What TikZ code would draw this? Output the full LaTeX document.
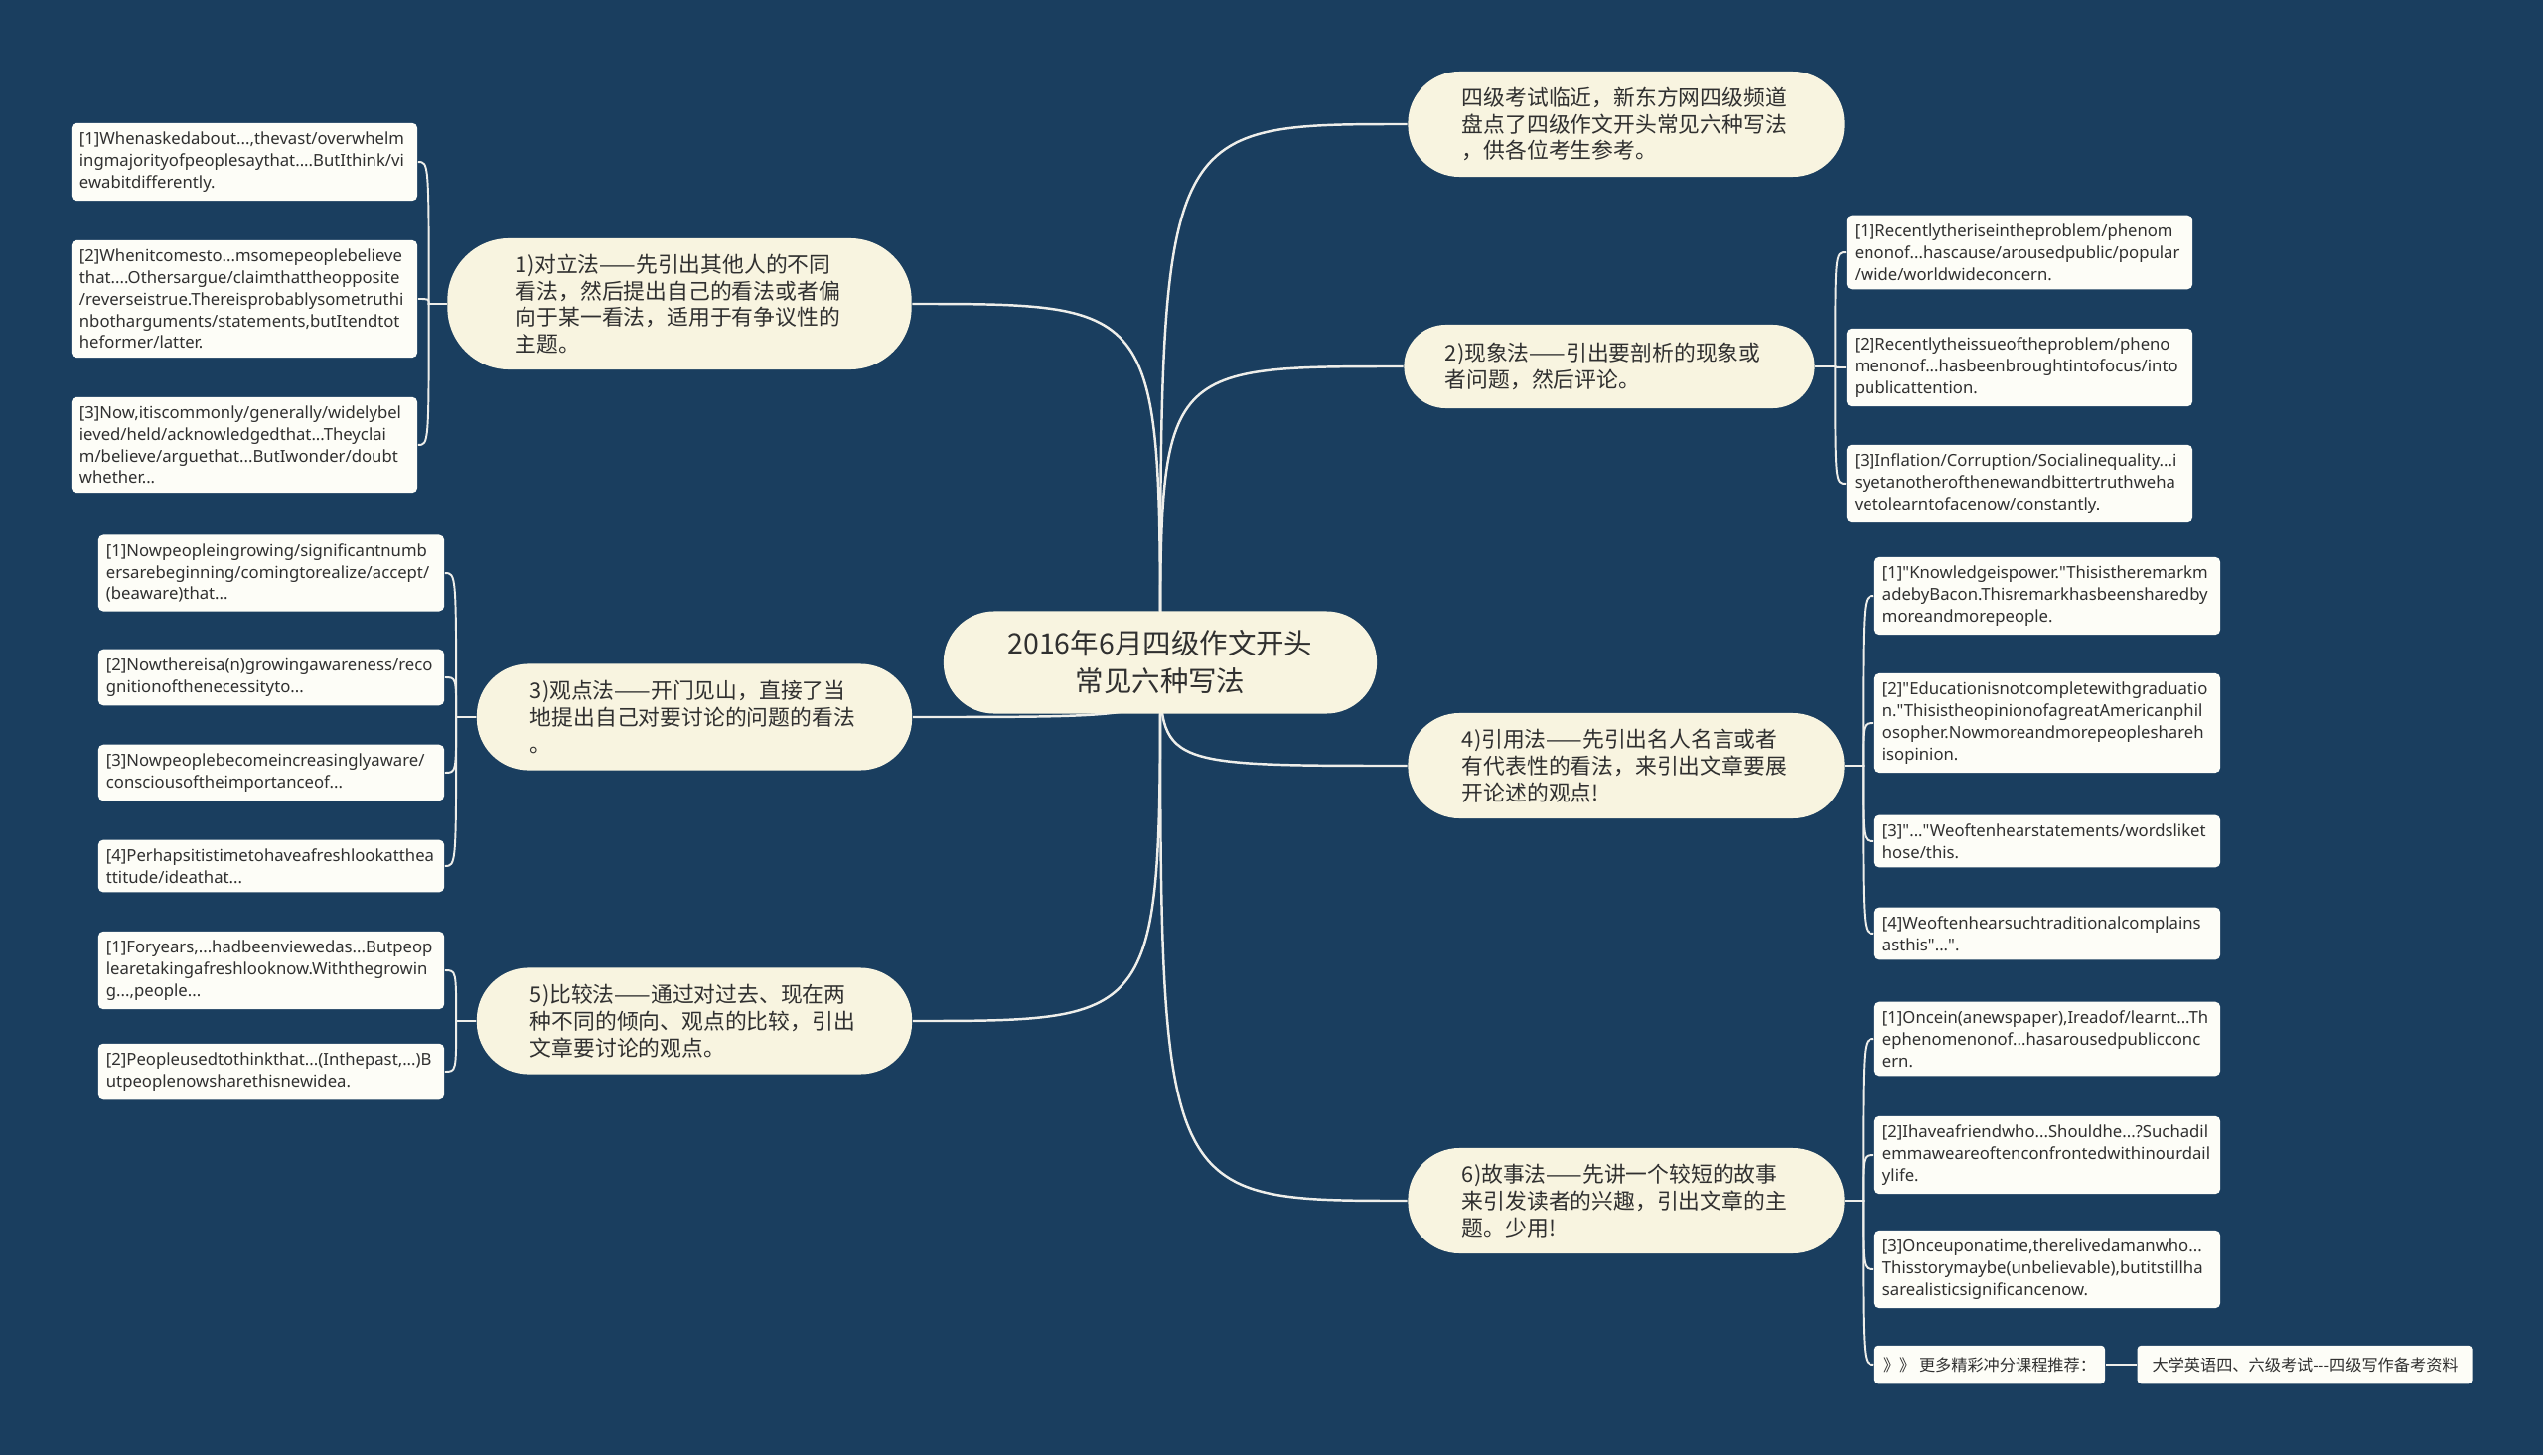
\documentclass[tikz,border=0pt]{standalone}
\usepackage{fontspec}
\usepackage{tikz}
\usetikzlibrary{positioning,calc}
\newfontfamily\cjk{Noto Sans CJK SC}
\newfontfamily\leaffont{Noto Sans}
\definecolor{cBg}{HTML}{1A3E5F}
\definecolor{cTopic}{HTML}{F8F4E0}
\definecolor{cLeaf}{HTML}{FDFDF7}
\definecolor{cInk}{HTML}{303030}
\definecolor{cLine}{HTML}{EEEEEA}
\pgfdeclarelayer{bg}
\pgfdeclarelayer{links}
\pgfsetlayers{bg,links,main}
\tikzset{
  hub/.style={rectangle,rounded corners=0.51cm,fill=cTopic,text=cInk,align=center,
    font=\cjk\fontsize{8.1}{10.8}\selectfont,minimum width=4.36cm,minimum height=1.03cm},
  topic/.style={rectangle,rounded corners=0.52cm,fill=cTopic,text=cInk,align=left,
    font=\cjk\fontsize{6.2}{7.6}\selectfont,text width=3.3cm,minimum height=1.06cm},
  leaf/.style={rectangle,rounded corners=0.05cm,fill=cLeaf,text=cInk,align=left,
    font=\leaffont\fontsize{4.75}{6.2}\selectfont,text width=3.32cm,inner xsep=0.08cm,inner ysep=0.09cm},
  tag/.style={rectangle,rounded corners=0.04cm,fill=cLeaf,text=cInk,
    font=\cjk\fontsize{4.6}{5.5}\selectfont,minimum height=0.38cm,inner xsep=0.08cm},
  branch/.style={draw=cLine,line width=0.7pt},
  twig/.style={draw=cLine,line width=0.55pt},
}
\begin{document}
\begin{tikzpicture}[x=0.01cm,y=0.01cm]
  \useasboundingbox (0,0) rectangle (2560,1465);
  \begin{pgfonlayer}{bg}
    \fill[cBg] (0,0) rectangle (2560,1465);
  \end{pgfonlayer}

  \node[hub] (hub) at (1168,798) {2016年6月四级作文开头\\常见六种写法};

  % topics, right side
  \node[topic,minimum width=4.39cm] (t0) at (1637,1340)
    {四级考试临近，新东方网四级频道\\盘点了四级作文开头常见六种写法\\，供各位考生参考。};
  \node[topic,minimum width=4.13cm,minimum height=0.84cm,rounded corners=0.42cm] (t2) at (1620,1096)
    {2)现象法——引出要剖析的现象或\\者问题，然后评论。};
  \node[topic,minimum width=4.39cm] (t4) at (1637,694)
    {4)引用法——先引出名人名言或者\\有代表性的看法，来引出文章要展\\开论述的观点!};
  \node[topic,minimum width=4.39cm] (t6) at (1637,256)
    {6)故事法——先讲一个较短的故事\\来引发读者的兴趣，引出文章的主\\题。少用!};
  % topics, left side
  \node[topic,minimum width=4.67cm,minimum height=1.32cm,rounded corners=0.62cm] (t1) at (684,1159)
    {1)对立法——先引出其他人的不同\\看法，然后提出自己的看法或者偏\\向于某一看法，适用于有争议性的\\主题。};
  \node[topic,minimum width=4.38cm,minimum height=1.07cm] (t3) at (699,743)
    {3)观点法——开门见山，直接了当\\地提出自己对要讨论的问题的看法\\。};
  \node[topic,minimum width=4.38cm,minimum height=1.07cm] (t5) at (699,437)
    {5)比较法——通过对过去、现在两\\种不同的倾向、观点的比较，引出\\文章要讨论的观点。};

  % leaves of 1)
  \node[leaf] (l11) at (246,1302)
    {[1]Whenaskedabout...,thevast/overwhelm\\ingmajorityofpeoplesaythat....ButIthink/vi\\ewabitdifferently.};
  \node[leaf] (l12) at (246,1164)
    {[2]Whenitcomesto...msomepeoplebelieve\\that....Othersargue/claimthattheopposite\\/reverseistrue.Thereisprobablysometruthi\\nbotharguments/statements,butItendtot\\heformer/latter.};
  \node[leaf] (l13) at (246,1017)
    {[3]Now,itiscommonly/generally/widelybel\\ieved/held/acknowledgedthat...Theyclai\\m/believe/arguethat...ButIwonder/doubt\\whether...};
  % leaves of 3)
  \node[leaf] (l31) at (273,888)
    {[1]Nowpeopleingrowing/significantnumb\\ersarebeginning/comingtorealize/accept/\\(beaware)that...};
  \node[leaf] (l32) at (273,783)
    {[2]Nowthereisa(n)growingawareness/reco\\gnitionofthenecessityto...};
  \node[leaf] (l33) at (273,687)
    {[3]Nowpeoplebecomeincreasinglyaware/\\consciousoftheimportanceof...};
  \node[leaf] (l34) at (273,593)
    {[4]Perhapsitistimetohaveafreshlookatthea\\ttitude/ideathat...};
  % leaves of 5)
  \node[leaf] (l51) at (273,488)
    {[1]Foryears,...hadbeenviewedas...Butpeop\\learetakingafreshlooknow.Withthegrowin\\g...,people...};
  \node[leaf] (l52) at (273,386)
    {[2]Peopleusedtothinkthat...(Inthepast,...)B\\utpeoplenowsharethisnewidea.};
  % leaves of 2)
  \node[leaf] (l21) at (2033,1211)
    {[1]Recentlytheriseintheproblem/phenom\\enonof...hascause/arousedpublic/popular\\/wide/worldwideconcern.};
  \node[leaf] (l22) at (2033,1095)
    {[2]Recentlytheissueoftheproblem/pheno\\menonof...hasbeenbroughtintofocus/into\\publicattention.};
  \node[leaf] (l23) at (2033,978)
    {[3]Inflation/Corruption/Socialinequality...i\\syetanotherofthenewandbittertruthweha\\vetolearntofacenow/constantly.};
  % leaves of 4)
  \node[leaf] (l41) at (2061,865)
    {[1]"Knowledgeispower."Thisistheremarkm\\adebyBacon.Thisremarkhasbeensharedby\\moreandmorepeople.};
  \node[leaf] (l42) at (2061,737)
    {[2]"Educationisnotcompletewithgraduatio\\n."ThisistheopinionofagreatAmericanphil\\osopher.Nowmoreandmorepeopleshareh\\isopinion.};
  \node[leaf] (l43) at (2061,618)
    {[3]"..."Weoftenhearstatements/wordsliket\\hose/this.};
  \node[leaf] (l44) at (2061,525)
    {[4]Weoftenhearsuchtraditionalcomplains\\asthis"...".};
  % leaves of 6)
  \node[leaf] (l61) at (2061,419)
    {[1]Oncein(anewspaper),Ireadof/learnt...Th\\ephenomenonof...hasarousedpublicconc\\ern.};
  \node[leaf] (l62) at (2061,302)
    {[2]Ihaveafriendwho...Shouldhe...?Suchadil\\emmaweareoftenconfrontedwithinourdail\\ylife.};
  \node[leaf] (l63) at (2061,187)
    {[3]Onceuponatime,therelivedamanwho...\\Thisstorymaybe(unbelievable),butitstillha\\sarealisticsignificancenow.};
  \node[tag,minimum width=2.32cm] (l64) at (2003,91) {》》 更多精彩冲分课程推荐：};
  \node[tag,minimum width=3.38cm,right=0.31cm of l64] (l65) {大学英语四、六级考试---四级写作备考资料};

  \begin{pgfonlayer}{links}
    \foreach \t/\a in {t0/west,t2/west,t4/west,t6/west,t1/east,t3/east,t5/east}
      \draw[branch] (hub.center) .. controls (hub.center |- \t.\a) .. (\t.\a);
    % brackets to the leaves
    \coordinate (j1) at ($(t1.west)+(-18,0)$);
    \coordinate (j3) at ($(t3.west)+(-20,0)$);
    \coordinate (j5) at ($(t5.west)+(-20,0)$);
    \coordinate (j2) at ($(t2.east)+(20,0)$);
    \coordinate (j4) at ($(t4.east)+(18,0)$);
    \coordinate (j6) at ($(t6.east)+(18,0)$);
    \foreach \l in {l11,l12,l13}
      \draw[twig] (t1.west) -- (j1) .. controls (j1 |- \l.east) .. (\l.east);
    \foreach \l in {l31,l32,l33,l34}
      \draw[twig] (t3.west) -- (j3) .. controls (j3 |- \l.east) .. (\l.east);
    \foreach \l in {l51,l52}
      \draw[twig] (t5.west) -- (j5) .. controls (j5 |- \l.east) .. (\l.east);
    \foreach \l in {l21,l22,l23}
      \draw[twig] (t2.east) -- (j2) .. controls (j2 |- \l.west) .. (\l.west);
    \foreach \l in {l41,l42,l43,l44}
      \draw[twig] (t4.east) -- (j4) .. controls (j4 |- \l.west) .. (\l.west);
    \foreach \l in {l61,l62,l63,l64}
      \draw[twig] (t6.east) -- (j6) .. controls (j6 |- \l.west) .. (\l.west);
    \draw[twig] (l64.east) -- (l65.west);
  \end{pgfonlayer}
\end{tikzpicture}
\end{document}
